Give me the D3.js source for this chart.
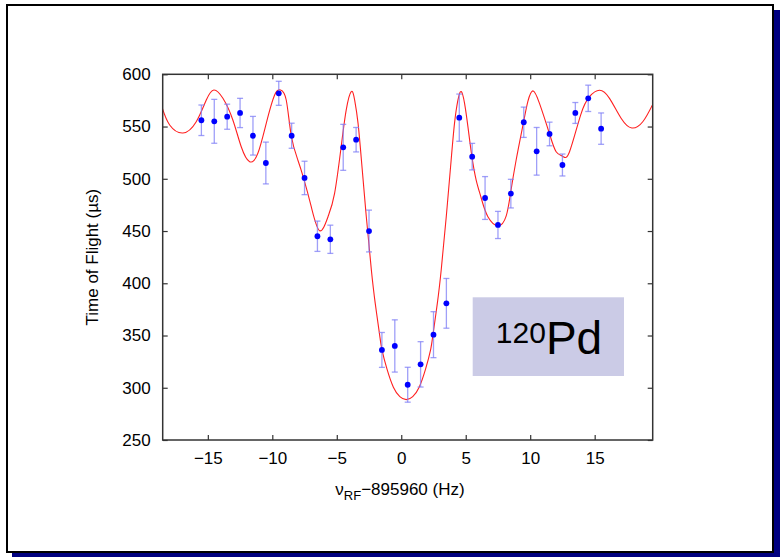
<!DOCTYPE html>
<html>
<head>
<meta charset="utf-8">
<script src="https://cdn.jsdelivr.net/npm/d3@7"></script>
<style>
  html, body { margin: 0; padding: 0; background: #fff; }
  svg { display: block; font-family: "Liberation Sans", Arial, Helvetica, sans-serif; }
</style>
</head>
<body>
<svg id="chart" width="783" height="557"></svg>
<script>
// Measured time of flight per RF detuning step (Hz offset from 895960 Hz)
const freqs = [-15.5, -14.5, -13.5, -12.5, -11.5, -10.5, -9.5, -8.5, -7.5, -6.5, -5.5, -4.5, -3.5, -2.5, -1.5, -0.5,
               0.5, 1.5, 2.5, 3.5, 4.5, 5.5, 6.5, 7.5, 8.5, 9.5, 10.5, 11.5, 12.5, 13.5, 14.5, 15.5];
const tofMean = [556, 555, 559.4, 563, 541.2, 515.1, 581.8, 541.2, 500.8, 445, 442.1, 530.1, 537.4, 450, 336.2, 340,
                 302.9, 322.4, 350.8, 380.8, 558.5, 521.2, 481.6, 455.8, 485.8, 554.1, 526.3, 542.9, 513.2, 563, 577, 548];
const tofErr = [14.6, 21, 12, 14, 18.5, 20, 11.5, 12, 16, 14.5, 13.5, 22, 11.7, 20, 16.7, 25,
                16.7, 21.7, 22, 23.8, 22.6, 12.7, 20.5, 13, 13.7, 14.5, 22.8, 11.3, 10.5, 10, 12.6, 15];

// Fitted resonance line shape, sampled
const fitFreq = [-18.53, -17.96, -16.93, -15.90, -15.12, -14.53, -13.83, -13.06, -12.41, -11.76, -11.12, -10.47,
                 -9.82, -9.36, -8.92, -8.53, -8.02, -7.58, -6.98, -6.33, -5.68, -5.17, -4.66, -4.27, -3.88,
                 -3.61, -3.35, -3.09, -2.71, -2.32, -2.02, -1.68, -1.49, -1.11, -0.61, -0.11, 0.39, 0.89, 1.39,
                 1.89, 2.27, 2.46, 2.80, 3.10, 3.49, 3.87, 4.13, 4.39, 4.65, 4.91, 5.17, 5.48, 5.81, 6.20, 6.72,
                 7.54, 8.14, 8.47, 8.91, 9.48, 9.82, 10.20, 10.72, 11.50, 12.01, 12.53, 13.05, 13.91, 14.60,
                 15.37, 16.15, 17.05, 17.88, 18.73, 19.50];
const fitTof = [567.5, 551.5, 543.8, 554.6, 575.4, 585, 577, 556.3, 530.7, 516.4, 524.4, 553.1,
                580.2, 585, 575.4, 541.2, 518, 500.8, 473.3, 450.3, 463.7, 486.1, 530.7, 565.8, 583.5,
                575, 553, 518, 463.7, 413, 381, 350.8, 336, 318, 300.5, 291.5, 288.6, 291.5, 300.5,
                318, 336, 350.8, 381, 413, 463.7, 518, 553, 575, 583.5, 572.2, 549.9, 521.2, 498.8, 481.6, 463.7,
                455.1, 464.5, 485.7, 518, 554, 574, 584.1, 572.2, 542.9, 525.9, 521.4, 525.9, 561, 578.6,
                584.7, 577, 557.9, 548.6, 554.6, 571.2];

const xTicks = [-15, -10, -5, 0, 5, 10, 15];
const yTicks = [250, 300, 350, 400, 450, 500, 550, 600];

const svg = d3.select("#chart");

// Slide frame with dark drop shadow
svg.append("rect").attr("x", 774).attr("y", 10).attr("width", 6).attr("height", 547).attr("fill", "#000080");
svg.append("rect").attr("x", 12).attr("y", 553).attr("width", 768).attr("height", 4).attr("fill", "#000080");
svg.append("rect").attr("x", 7).attr("y", 5).attr("width", 766).attr("height", 547)
  .attr("fill", "#fff").attr("stroke", "#000").attr("stroke-width", 2);

const L = 162.7, R = 652.7, T = 74.3, B = 440;
const x = d3.scaleLinear().domain([-18.5, 19.5]).range([L, R]);
const y = d3.scaleLinear().domain([250, 600]).range([B, T]);

svg.append("defs").append("clipPath").attr("id", "plotclip")
  .append("rect").attr("x", L).attr("y", T).attr("width", R - L).attr("height", B - T);

// Axes: ticks point inward on all four sides
const axisStyle = g => {
  g.select(".domain").remove();
  g.selectAll(".tick line").attr("stroke", "#333").attr("stroke-width", 1.2);
  g.selectAll(".tick text").attr("fill", "#000").attr("font-size", 17)
    .attr("font-family", "'Liberation Sans', Arial, sans-serif");
};
svg.append("g").attr("transform", `translate(0,${B})`)
  .call(d3.axisBottom(x).tickValues(xTicks).tickSizeInner(-5).tickSizeOuter(0).tickPadding(12)
    .tickFormat(d => d < 0 ? "\u2212" + Math.abs(d) : d))
  .call(axisStyle);
svg.append("g").attr("transform", `translate(0,${T})`)
  .call(d3.axisTop(x).tickValues(xTicks).tickSizeInner(-5).tickSizeOuter(0).tickFormat(""))
  .call(axisStyle);
svg.append("g").attr("transform", `translate(${L},0)`)
  .call(d3.axisLeft(y).tickValues(yTicks).tickSizeInner(-5).tickSizeOuter(0).tickPadding(12))
  .call(axisStyle);
svg.append("g").attr("transform", `translate(${R},0)`)
  .call(d3.axisRight(y).tickValues(yTicks).tickSizeInner(-5).tickSizeOuter(0).tickFormat(""))
  .call(axisStyle);

// Fitted curve
const fit = fitFreq.map((f, i) => [f, fitTof[i]]);
svg.append("path").datum(fit)
  .attr("clip-path", "url(#plotclip)")
  .attr("fill", "none").attr("stroke", "#ff2020").attr("stroke-width", 1.1)
  .attr("d", d3.line().x(d => x(d[0])).y(d => y(d[1])).curve(d3.curveNatural));

// Error bars
const pts = freqs.map((f, i) => ({ f, t: tofMean[i], e: tofErr[i] }));
const eb = svg.append("g").attr("stroke", "#7f7ff5").attr("stroke-opacity", 0.75).attr("stroke-width", 1.3);
eb.selectAll(".v").data(pts).join("line")
  .attr("x1", d => x(d.f)).attr("x2", d => x(d.f))
  .attr("y1", d => y(d.t + d.e)).attr("y2", d => y(d.t - d.e));
eb.selectAll(".c1").data(pts).join("line")
  .attr("x1", d => x(d.f) - 3).attr("x2", d => x(d.f) + 3)
  .attr("y1", d => y(d.t + d.e)).attr("y2", d => y(d.t + d.e));
eb.selectAll(".c2").data(pts).join("line")
  .attr("x1", d => x(d.f) - 3).attr("x2", d => x(d.f) + 3)
  .attr("y1", d => y(d.t - d.e)).attr("y2", d => y(d.t - d.e));

// Data points
svg.append("g").selectAll("circle").data(pts).join("circle")
  .attr("cx", d => x(d.f)).attr("cy", d => y(d.t)).attr("r", 2.9).attr("fill", "#0000ff");

// Plot frame
svg.append("rect").attr("x", L).attr("y", T).attr("width", R - L).attr("height", B - T)
  .attr("fill", "none").attr("stroke", "#333").attr("stroke-width", 1.5);

// Axis titles
const xt = svg.append("text").attr("x", 400).attr("y", 495).attr("text-anchor", "middle")
  .attr("font-size", 17).attr("fill", "#000");
xt.append("tspan").text("\u03bd");
xt.append("tspan").attr("font-size", 13).attr("dy", 5).text("RF");
xt.append("tspan").attr("dy", -5).text("\u2212895960 (Hz)");

svg.append("text").attr("transform", `translate(98,${(T + B) / 2}) rotate(-90)`)
  .attr("text-anchor", "middle").attr("font-size", 17).attr("fill", "#000")
  .text("Time of Flight (\u00b5s)");

// Isotope label box
svg.append("rect").attr("x", 472.7).attr("y", 297.3).attr("width", 151.3).attr("height", 78.7)
  .attr("fill", "#cbcbe6");
const lab = svg.append("text").attr("x", 549).attr("y", 354).attr("text-anchor", "middle")
  .attr("fill", "#000");
lab.append("tspan").attr("font-size", 30).attr("dy", -11).text("120");
lab.append("tspan").attr("font-size", 46).attr("dy", 11).text("Pd");
</script>
</body>
</html>
